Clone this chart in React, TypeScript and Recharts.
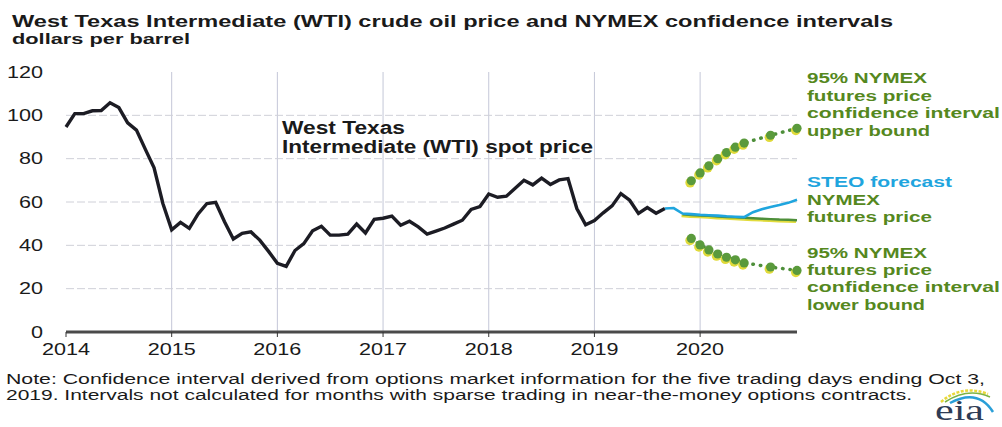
import React from 'react';
import { LineChart, Line, XAxis, YAxis, CartesianGrid } from 'recharts';

// monthly WTI spot price, Jan 2014 - Sep 2019 (dollars per barrel)
const spotPrice = [
  94.6, 100.8, 100.8, 102.1, 102.2, 105.8, 103.6, 96.5, 93.2, 84.4, 75.8, 59.3,
  47.2, 50.6, 47.8, 54.5, 59.3, 59.8, 50.9, 42.9, 45.5, 46.2, 42.4, 37.2,
  31.7, 30.3, 37.6, 40.8, 46.7, 48.8, 44.7, 44.7, 45.2, 49.8, 45.7, 52.0,
  52.5, 53.5, 49.3, 51.1, 48.5, 45.2, 46.6, 48.0, 49.8, 51.6, 56.6, 57.9,
  63.7, 62.2, 62.7, 66.3, 70.0, 67.9, 71.0, 68.1, 70.2, 70.8, 57.0, 49.5,
  51.4, 55.0, 58.2, 63.9, 60.8, 54.7, 57.4, 54.8, 57.0,
];

// STEO forecast, Sep 2019 - Dec 2020
const steoForecast = [57.0, 57.2, 54.7, 54.4, 54.1, 53.9, 53.7, 53.4, 53.2, 53.0, 55.3, 56.7, 57.7, 58.6, 59.6, 61.0];

// NYMEX futures price, Nov 2019 - Dec 2020
const nymexFutures = [54.3, 54.0, 53.8, 53.6, 53.3, 53.1, 52.9, 52.7, 52.5, 52.3, 52.1, 51.9, 51.8, 51.6];

// 95% confidence interval bounds, Dec 2019 - Dec 2020 (null = not calculated)
const upperBound = [69.8, 73.4, 76.7, 80.0, 82.8, 85.3, 87.2, null, null, 90.8, null, null, 94.0];
const lowerBound = [43.2, 40.2, 37.9, 36.0, 34.5, 33.3, 31.9, null, null, 30.0, null, null, 28.4];

const yearLabels = ['2014', '2015', '2016', '2017', '2018', '2019', '2020'];
const yTicks = [0, 20, 40, 60, 80, 100, 120];

const STEO_START = 68; // Sep 2019
const NYMEX_START = 70; // Nov 2019
const BOUND_START = 71; // Dec 2019
const MONTHS = 84;

const pick = (arr: (number | null)[], start: number, i: number) =>
  i >= start && i - start < arr.length ? arr[i - start] : null;

const data = Array.from({ length: MONTHS }, (_, i) => ({
  t: i,
  spot: i < spotPrice.length ? spotPrice[i] : null,
  steo: pick(steoForecast, STEO_START, i),
  nymex: pick(nymexFutures, NYMEX_START, i),
  upper: pick(upperBound, BOUND_START, i),
  lower: pick(lowerBound, BOUND_START, i),
}));

const yearTicks = yearLabels.map((_, i) => i * 12);

const GREEN = '#55881e';
const BLUE = '#1fa5de';
const FONT = '"Liberation Sans", Arial, sans-serif';

const XTick = (props: any) => {
  const { x, y, payload } = props;
  const label = yearLabels[Math.round(payload.value / 12)];
  return (
    <g transform={`translate(${x},${y})`}>
      <text y={16} textAnchor="middle" transform="scale(1.35,1)" fontSize={16} fontFamily={FONT} fill="#1a1a1a">
        {label}
      </text>
    </g>
  );
};

const YTick = (props: any) => {
  const { x, y, payload } = props;
  return (
    <g transform={`translate(${x},${y})`}>
      <text y={5.5} textAnchor="end" transform="scale(1.35,1)" fontSize={16} fontFamily={FONT} fill="#1a1a1a">
        {payload.value}
      </text>
    </g>
  );
};

const BoundDot = (props: any) => {
  const { cx, cy, value, index } = props;
  if (value == null || cx == null || cy == null) return <g key={`d${index}`} />;
  return (
    <g key={`d${index}`}>
      <circle cx={cx - 1.2} cy={cy + 2} r={4.8} fill="#e0da3a" />
      <circle cx={cx} cy={cy} r={4.6} fill="#5a9a3c" />
    </g>
  );
};

const Txt = ({ x, y, len, size, color = '#1a1a1a', bold = false, children }: any) => (
  <text
    x={x}
    y={y}
    textLength={len}
    lengthAdjust="spacingAndGlyphs"
    fontSize={size}
    fontWeight={bold ? 'bold' : 'normal'}
    fontFamily={FONT}
    fill={color}
  >
    {children}
  </text>
);

export default function App() {
  return (
    <div style={{ position: 'absolute', left: 0, top: 0, width: 1002, height: 427, background: '#fff' }}>
      <style>{`.nymex-shadow { transform: translate(-1px, 1.6px); }`}</style>
      <LineChart width={1002} height={427} data={data} margin={{ top: 72, right: 205, bottom: 65, left: 10 }}>
        <CartesianGrid horizontal={false} verticalValues={yearTicks.slice(1)} stroke="#c4c7d8" />
        <CartesianGrid vertical={false} horizontalValues={[20, 40, 60, 80, 100]} stroke="#cfd0d8" strokeDasharray="8 3" />
        <XAxis
          dataKey="t"
          type="number"
          domain={[0, MONTHS - 1]}
          ticks={yearTicks}
          tick={<XTick />}
          tickSize={5}
          tickMargin={2}
          height={30}
          axisLine={{ stroke: '#4a4a4a', strokeWidth: 3 }}
          tickLine={{ stroke: '#333' }}
        />
        <YAxis
          domain={[0, 120]}
          ticks={yTicks}
          tick={<YTick />}
          tickLine={false}
          axisLine={false}
          tickSize={0}
          tickMargin={23}
          width={56}
        />
        <Line dataKey="spot" stroke="#1c1c24" strokeWidth={3.4} dot={false} isAnimationActive={false} type="linear" />
        <Line
          dataKey="nymex"
          className="nymex-shadow"
          stroke="#e2dc3c"
          strokeWidth={2.6}
          dot={false}
          isAnimationActive={false}
          type="linear"
        />
        <Line dataKey="nymex" stroke="#4e8f3a" strokeWidth={2.4} dot={false} isAnimationActive={false} type="linear" />
        <Line dataKey="steo" stroke={BLUE} strokeWidth={2.6} dot={false} isAnimationActive={false} type="linear" />
        <Line
          dataKey="upper"
          stroke="#4e8f3a"
          strokeWidth={3.5}
          strokeDasharray="0.5 7"
          strokeLinecap="round"
          connectNulls
          dot={BoundDot}
          isAnimationActive={false}
          type="linear"
        />
        <Line
          dataKey="lower"
          stroke="#4e8f3a"
          strokeWidth={3.5}
          strokeDasharray="0.5 7"
          strokeLinecap="round"
          connectNulls
          dot={BoundDot}
          isAnimationActive={false}
          type="linear"
        />
      </LineChart>

      <svg width={1002} height={427} style={{ position: 'absolute', left: 0, top: 0, pointerEvents: 'none' }}>
        <Txt x={12} y={27} len={881} size={16.5} bold>
          West Texas Intermediate (WTI) crude oil price and NYMEX confidence intervals
        </Txt>
        <Txt x={12} y={44} len={178} size={15} bold>
          dollars per barrel
        </Txt>

        <Txt x={282} y={134} len={123} size={18} bold>
          West Texas
        </Txt>
        <Txt x={282} y={153} len={311} size={18} bold>
          Intermediate (WTI) spot price
        </Txt>

        <Txt x={807} y={83} len={120} size={14.5} color={GREEN} bold>95% NYMEX</Txt>
        <Txt x={807} y={101} len={125} size={14.5} color={GREEN} bold>futures price</Txt>
        <Txt x={807} y={118} len={193} size={14.5} color={GREEN} bold>confidence interval</Txt>
        <Txt x={807} y={136} len={123} size={14.5} color={GREEN} bold>upper bound</Txt>

        <Txt x={807} y={187} len={145} size={14.5} color={BLUE} bold>STEO forecast</Txt>
        <Txt x={807} y={205} len={73} size={14.5} color={GREEN} bold>NYMEX</Txt>
        <Txt x={807} y={222} len={125} size={14.5} color={GREEN} bold>futures price</Txt>

        <Txt x={807} y={258} len={120} size={14.5} color={GREEN} bold>95% NYMEX</Txt>
        <Txt x={807} y={275} len={125} size={14.5} color={GREEN} bold>futures price</Txt>
        <Txt x={807} y={292} len={193} size={14.5} color={GREEN} bold>confidence interval</Txt>
        <Txt x={807} y={310} len={118} size={14.5} color={GREEN} bold>lower bound</Txt>

        <Txt x={6} y={384} len={979} size={15.5}>
          Note: Confidence interval derived from options market information for the five trading days ending Oct 3,
        </Txt>
        <Txt x={6} y={400} len={906} size={15.5}>
          2019. Intervals not calculated for months with sparse trading in near-the-money options contracts.
        </Txt>

        {/* eia logo */}
        <path d="M941 402 Q962 384 988 394" fill="none" stroke="#e8d83a" strokeWidth={2.5} strokeDasharray="3 1.5" />
        <path d="M945 402 Q968 387 990 397" fill="none" stroke="#7cb342" strokeWidth={1.5} />
        <path d="M950 403 Q978 388 993 412" fill="none" stroke="#2a9fd8" strokeWidth={2.5} />
        <text
          x={935}
          y={420}
          textLength={49}
          lengthAdjust="spacingAndGlyphs"
          fontSize={30}
          fontFamily='"Liberation Serif", "DejaVu Serif", serif'
          fill="#2e3b55"
        >
          eia
        </text>
      </svg>
    </div>
  );
}
